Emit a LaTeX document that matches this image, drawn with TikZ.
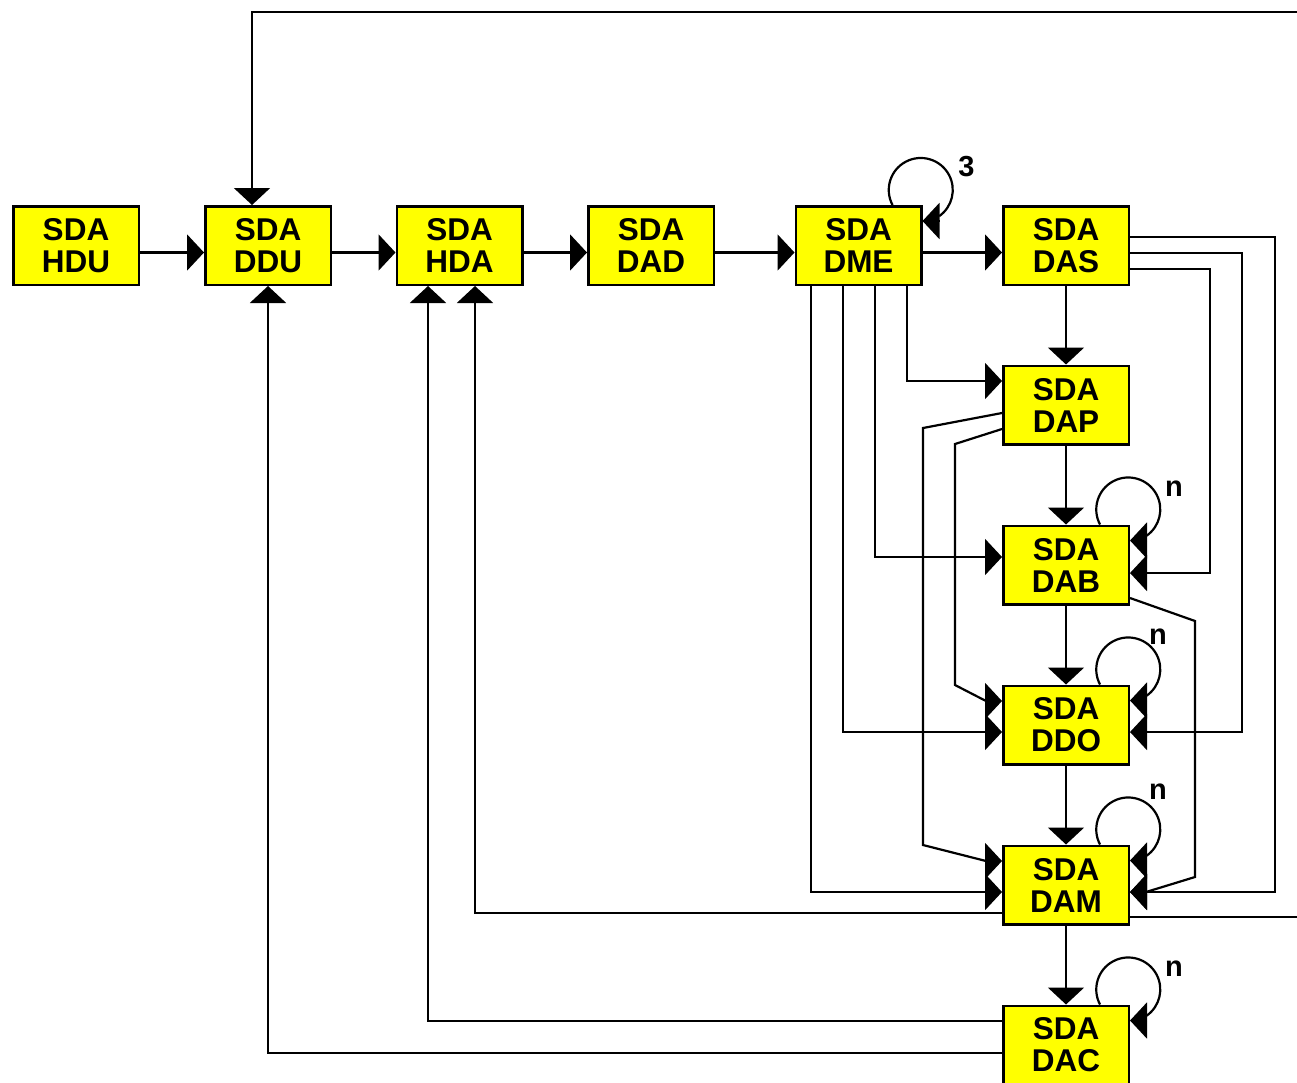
\documentclass[tikz,border=0pt]{standalone}
\usepackage{fontspec}
\setmainfont{Liberation Sans}
\usetikzlibrary{arrows.meta,calc}
\definecolor{boxyellow}{HTML}{FFFF00}
\newcommand\myselfloop[1]{%
  \draw[con] ([xshift=34pt]#1.north) arc[start angle=208,end angle=-55,radius=32pt];
  \draw[arr] ([xshift=17pt,yshift=-16pt]#1.north east) -- ([yshift=-16pt]#1.north east);}
\begin{document}
\begin{tikzpicture}[x=1pt,y=1pt,
  box/.style={draw,line width=2.5pt,fill=boxyellow,minimum width=125.5pt,minimum height=78.5pt,inner sep=0pt,align=center,font=\bfseries\fontsize{31.5}{32}\selectfont},
  con/.style={line width=2.2pt},
  arr/.style={con,-{Triangle[length=17pt,width=36pt]}},
  lbl/.style={font=\bfseries\fontsize{29}{32}\selectfont,inner sep=0pt}]
\useasboundingbox (0,0) rectangle (1297,-1082);
% boxes
\node[box] (hdu) at (76,-245.5) {SDA\\HDU};
\node[box] (ddu) at (268,-245.5) {SDA\\DDU};
\node[box] (hda) at (459.5,-245.5) {SDA\\HDA};
\node[box] (dad) at (651,-245.5) {SDA\\DAD};
\node[box] (dme) at (858.5,-245.5) {SDA\\DME};
\node[box] (das) at (1066,-245.5) {SDA\\DAS};
\node[box] (dap) at (1066,-405) {SDA\\DAP};
\node[box] (dab) at (1066,-565) {SDA\\DAB};
\node[box] (ddo) at (1066,-725) {SDA\\DDO};
\node[box] (dam) at (1066,-885) {SDA\\DAM};
\node[box] (dac) at (1066,-1045) {SDA\\DAC};
\coordinate (topR) at (1297,-12);
\coordinate (midR) at (1297,-917);
% main chain
\draw[arr] ([yshift=-7pt]hdu.east) -- ([yshift=-7pt]ddu.west);
\draw[arr] ([yshift=-7pt]ddu.east) -- ([yshift=-7pt]hda.west);
\draw[arr] ([yshift=-7pt]hda.east) -- ([yshift=-7pt]dad.west);
\draw[arr] ([yshift=-7pt]dad.east) -- ([yshift=-7pt]dme.west);
\draw[arr] ([yshift=-7pt]dme.east) -- ([yshift=-7pt]das.west);
% vertical chain
\draw[arr] (das.south) -- (dap.north);
\draw[arr] (dap.south) -- (dab.north);
\draw[arr] (dab.south) -- (ddo.north);
\draw[arr] (ddo.south) -- (dam.north);
\draw[arr] (dam.south) -- (dac.north);
% DME bottom branches
\draw[arr] ([xshift=48.5pt]dme.south) |- ([yshift=24pt]dap.west);
\draw[arr] ([xshift=16.5pt]dme.south) |- ([yshift=8pt]dab.west);
\draw[arr] ([xshift=-15.5pt]dme.south) |- ([yshift=-7pt]ddo.west);
\draw[arr] ([xshift=-47.5pt]dme.south) |- ([yshift=-7pt]dam.west);
% DAS right branches
\draw[arr] ([yshift=-23.5pt]das.east) -- ++(80,0) |- ([yshift=-8pt]dab.east);
\draw[arr] ([yshift=-7.5pt]das.east) -- ++(112,0) |- ([yshift=-7pt]ddo.east);
\draw[arr] ([yshift=8.5pt]das.east) -- ++(145,0) |- ([yshift=-7pt]dam.east);
% DAP left branches
\draw[arr] ([yshift=-24pt]dap.west) -- ++(-47,-15) -- ++(0,-241)
  -- ([xshift=-16pt,yshift=24pt]ddo.west) -- ([yshift=24pt]ddo.west);
\draw[arr] ([yshift=-8pt]dap.west) -- ++(-79,-15) -- ++(0,-417)
  -- ([xshift=-16pt,yshift=24pt]dam.west) -- ([yshift=24pt]dam.west);
% DAB to DAM
\draw[arr] ([yshift=-33pt]dab.east) -- ++(65,-23) -- ++(0,-256)
  -- ([xshift=16pt,yshift=-7pt]dam.east) -- ([yshift=-7pt]dam.east);
% feedback lines
\draw[arr] ([yshift=-28pt]dam.west) -| ([xshift=15.5pt]hda.south);
\draw[con] ([yshift=-32pt]dam.east) -- (midR);
\draw[arr] (topR) -| ([xshift=-16pt]ddu.north);
\draw[arr] ([yshift=24pt]dac.west) -| ([xshift=-31.5pt]hda.south);
\draw[arr] ([yshift=-8pt]dac.west) -| (ddu.south);
% self loops
\myselfloop{dme}
\myselfloop{dab}
\myselfloop{ddo}
\myselfloop{dam}
\myselfloop{dac}
\node[lbl] (l3) at ([shift={(44pt,38pt)}]dme.north east) {3};
\node[lbl] (ln1) at ([shift={(44pt,36pt)}]dab.north east) {n};
\node[lbl] (ln2) at ([shift={(28pt,48pt)}]ddo.north east) {n};
\node[lbl] (ln3) at ([shift={(28pt,53pt)}]dam.north east) {n};
\node[lbl] (ln4) at ([shift={(44pt,36pt)}]dac.north east) {n};
\end{tikzpicture}
\end{document}
